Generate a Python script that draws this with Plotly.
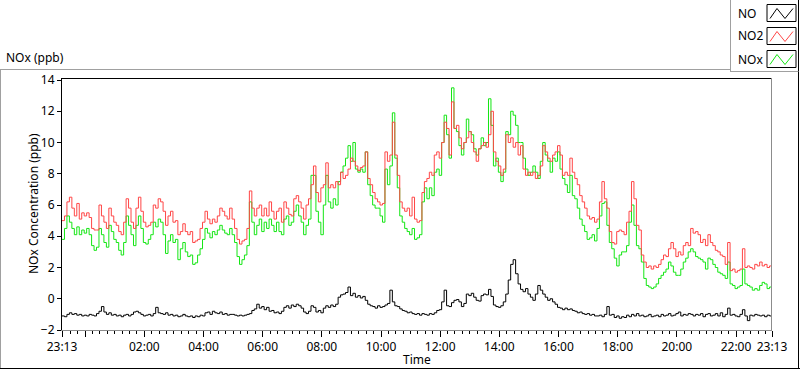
import pandas as pd
import plotly.graph_objects as go

# ---------------- data (5-minute samples from 23:13 to 23:13 next day) ----------------
START = "2000-01-01 23:13"
END = "2000-01-02 23:13"
STEP = "5min"

NO2 = [
    5.0, 5.3, 6.2, 6.5, 5.8, 5.3, 6.1, 5.1, 5.5, 5.3, 5.5, 5.2,
    4.5, 4.4, 4.4, 6.0, 5.3, 4.9, 4.5, 5.8, 5.3, 4.9, 4.7, 4.3,
    4.1, 4.9, 6.4, 5.8, 4.9, 4.5, 5.8, 6.5, 5.6, 4.9, 4.6, 4.7,
    4.9, 6.0, 5.8, 6.4, 6.2, 5.6, 4.7, 5.3, 5.6, 4.9, 5.0, 4.1,
    4.3, 4.8, 4.3, 4.1, 4.3, 3.6, 3.7, 3.8, 4.5, 4.9, 5.6, 5.1,
    4.8, 5.1, 4.9, 5.3, 5.8, 5.6, 5.3, 5.1, 5.8, 5.1, 4.5, 3.8,
    3.5,
    3.7, 3.8, 4.5, 6.9, 5.8, 5.3, 5.8, 6.0, 5.3, 5.8, 5.3, 6.2,
    5.6, 5.1, 5.6, 5.8, 4.9, 6.2, 5.8, 5.4, 5.3, 6.4, 6.6, 6.2,
    5.8, 5.1, 6.0, 6.4, 7.3, 8.5, 6.8, 6.2, 7.1, 7.3, 8.7, 7.1,
    7.3, 7.1, 7.5, 7.3, 8.1, 7.7, 7.9, 8.3, 9.0, 8.8, 8.5, 8.2,
    8.4, 8.5, 9.4, 7.7, 7.3, 6.8, 6.4, 6.2, 6.0, 6.1, 9.4, 8.8,
    9.2, 11.3, 9.2, 7.9, 6.2, 5.8, 5.6, 5.8, 5.3, 6.5, 5.1, 4.9,
    5.0, 6.8, 7.5, 7.7, 8.1, 7.9, 9.2, 9.4, 9.0, 10.0, 11.3, 10.9,
    9.2, 12.6, 10.9, 11.1, 10.3, 9.6, 10.0, 10.3, 10.7, 10.0, 9.4, 8.8,
    9.6, 9.8, 10.0, 9.7, 10.5, 12.0, 9.4, 8.8, 8.5, 7.9, 8.3, 10.5,
    10.0, 10.3, 9.7, 10.0, 9.2, 9.8, 8.3, 7.9, 8.1, 7.9, 8.1, 7.7,
    7.9, 8.5, 9.8, 9.4, 9.0, 8.8, 9.2, 9.4, 9.8, 9.2, 7.9, 8.1,
    7.9, 9.0, 8.1, 7.7, 7.3, 6.6, 6.2, 5.8, 5.3, 5.1, 5.2, 4.9,
    5.1, 6.2, 7.5, 6.4, 5.8, 4.3, 3.6, 3.5, 4.3, 4.4, 4.3, 4.1,
    4.9, 5.6, 7.5, 6.4, 4.7, 4.4, 2.8, 2.35, 2.0, 2.1, 1.9, 2.1,
    2.0, 2.2, 2.5, 2.8, 2.7, 3.2, 3.6, 3.2, 2.7, 3.0, 2.8, 3.4,
    3.6, 3.4, 4.5, 4.2, 4.3, 4.1, 3.6, 3.8, 3.4, 4.1, 3.6, 3.4,
    3.1, 3.0, 2.8, 2.7, 2.2, 3.6, 1.8, 1.9, 1.7, 1.8, 1.9, 3.2,
    2.0, 2.1, 2.0, 1.9, 2.2, 2.1, 2.35, 2.1, 2.2, 2.0, 2.1, 1.8,
]

NOX = [
    3.8, 4.5, 5.3, 4.9, 4.5, 4.1, 4.6, 4.1, 4.4, 4.2, 4.5, 4.1,
    3.4, 3.1, 3.3, 4.5, 4.1, 3.6, 3.3, 4.7, 4.3, 3.8, 3.6, 3.1,
    2.8, 3.6, 5.3, 4.7, 4.1, 3.4, 4.7, 5.3, 4.5, 3.6, 3.5, 3.8,
    4.1, 4.9, 4.6, 5.1, 4.9, 4.1, 2.9, 3.7, 4.1, 3.6, 3.8, 2.5,
    3.2, 3.6, 3.0, 2.7, 2.8, 2.2, 2.3, 2.8, 3.2, 3.8, 4.5, 4.2,
    3.9, 4.3, 4.1, 4.4, 4.7, 4.4, 4.2, 4.1, 4.5, 4.1, 3.6, 2.7,
    2.2,
    2.5, 2.8, 3.4, 6.2, 4.9, 4.1, 4.7, 5.1, 4.3, 4.9, 4.5, 5.1,
    4.7, 4.3, 4.9, 4.3, 4.1, 5.1, 5.3, 4.7, 4.9, 5.6, 6.0, 5.3,
    4.9, 4.1, 4.7, 5.1, 7.9, 7.9, 5.6, 4.9, 4.1, 6.0, 7.9, 6.2,
    5.8, 6.4, 6.0, 7.5, 8.1, 8.5, 9.0, 9.8, 8.8, 10.0, 8.3, 8.1,
    8.3, 8.1, 9.4, 7.3, 6.6, 6.0, 5.8, 5.8, 5.3, 4.9, 8.3, 7.3,
    8.5, 11.9, 9.0, 7.1, 5.3, 4.9, 4.5, 4.3, 4.1, 4.5, 3.8, 3.9,
    4.1, 6.2, 7.1, 6.4, 7.1, 6.6, 8.1, 8.3, 7.9, 10.0, 11.75, 10.5,
    9.0, 13.5, 10.9, 10.7, 9.8, 9.2, 10.0, 11.5, 10.7, 10.5, 9.6, 9.2,
    9.6, 10.3, 9.8, 10.0, 12.8, 11.1, 8.5, 9.0, 8.1, 7.5, 8.1, 10.7,
    10.5, 12.0, 11.75, 11.1, 10.0, 10.0, 9.0, 8.3, 7.9, 8.1, 8.5, 8.1,
    7.7, 8.8, 10.0, 9.2, 8.8, 8.1, 9.0, 8.8, 9.4, 8.3, 7.7, 7.3,
    6.8, 7.9, 6.6, 6.4, 5.8, 5.1, 4.7, 4.3, 3.8, 3.9, 4.1, 3.7,
    4.5, 5.3, 6.1, 6.2, 4.7, 3.6, 3.2, 2.6, 2.1, 2.8, 3.0, 3.0,
    3.4, 4.9, 6.0, 4.7, 3.4, 3.2, 2.35, 1.3, 0.85, 0.75, 0.65, 0.75,
    0.95, 1.3, 1.5, 1.7, 1.9, 2.35, 2.1, 1.7, 1.5, 1.5, 1.9, 2.35,
    2.6, 3.0, 3.2, 3.0, 2.7, 2.6, 2.5, 2.35, 1.9, 2.6, 2.5, 2.2,
    2.0, 1.7, 1.6, 1.5, 1.3, 2.35, 0.95, 0.85, 0.65, 0.75, 0.85, 1.9,
    0.95, 0.85, 0.75, 0.55, 0.65, 0.55, 0.85, 1.05, 0.95, 0.65, 0.75, 0.55,
]

NO = [
    -1.1, -1.15, -1.0, -0.9, -1.0, -0.95, -1.05, -1.0, -1.1, -1.05, -1.1, -1.0,
    -1.05, -1.1, -0.95, -0.8, -0.5, -0.85, -1.0, -0.9, -1.05, -1.0, -1.1, -1.05,
    -1.15, -1.05, -1.0, -1.1, -1.0, -0.85, -0.8, -0.9, -1.0, -1.1, -1.05, -1.0,
    -1.1, -0.95, -0.55, -0.9, -0.95, -1.0, -0.9, -1.05, -1.0, -1.1, -1.05, -1.15,
    -1.1, -1.0, -1.1, -1.15, -1.1, -1.2, -1.1, -1.15, -1.05, -1.1, -0.9, -0.85,
    -1.0, -0.8, -0.9, -0.95, -0.85, -1.0, -0.95, -1.05, -1.0, -1.0, -1.05, -1.1,
    -1.05,
    -1.1, -1.05, -1.0, -0.95, -0.75, -0.65, -0.35, -0.6, -0.5, -0.7, -0.55, -0.8,
    -0.75, -0.9, -0.85, -0.95, -0.8, -0.55, -0.45, -0.6, -0.4, -0.5, -0.35, -0.45,
    -0.6, -0.85, -0.95, -0.8, -0.45, -0.55, -0.85, -0.75, -0.9, -0.6, -0.45, -0.55,
    -0.4, -0.5, -0.35, 0.1, 0.25, 0.3, 0.4, 0.75, 0.2, 0.35, 0.1, 0.2,
    0.05, 0.15, -0.1, -0.35, -0.45, -0.5, -0.6, -0.45, -0.55, -0.5, -0.4, -0.3,
    0.55, -0.2, -0.45, -0.5, -0.65, -0.75, -0.8, -0.9, -0.85, -0.95, -1.0, -0.95,
    -1.05, -0.95, -1.0, -1.05, -0.95, -1.0, -0.9, -0.75, -0.7, -0.2, 0.55, -0.45,
    -0.5, -0.25, -0.1, -0.05, -0.2, -0.5, -0.3, 0.3, 0.2, 0.35, 0.1, -0.1,
    -0.15, 0.2, 0.3, 0.25, 0.6, 0.15, -0.4, -0.5, -0.55, -0.45, -0.2, 0.3,
    1.2, 2.2, 2.5, 1.6, 0.95, 0.6, 0.45, 0.65, 0.3, 0.1, -0.1, 0.3,
    0.85, 0.55, 0.3, 0.1, -0.1, 0.0, -0.2, -0.35, -0.55, -0.6, -0.7, -0.6,
    -0.7, -0.65, -0.75, -0.8, -0.9, -0.85, -0.95, -1.0, -0.95, -1.05, -1.0, -1.1,
    -1.1, -1.05, -1.15, -1.0, -0.5, -1.05, -1.0, -1.2, -1.1, -1.25, -1.15, -1.2,
    -1.05, -1.15, -1.0, -1.1, -0.95, -1.1, -1.05, -1.15, -1.1, -1.0, -1.15, -1.1,
    -1.05, -1.15, -1.0, -1.1, -1.05, -0.95, -1.1, -1.05, -0.95, -0.85, -1.1, -1.0,
    -1.05, -0.95, -1.0, -1.1, -1.0, -1.05, -0.95, -1.15, -1.0, -0.95, -1.1, -1.05,
    -0.95, -1.1, -0.9, -1.15, -1.0, -0.6, -1.05, -1.0, -1.1, -1.15, -1.0, -0.7,
    -1.1, -1.4, -1.05, -1.1, -1.0, -1.05, -1.1, -1.05, -1.15, -1.05, -1.1, -1.15,
]

TICK_TIMES = [
    "2000-01-01 23:13", "2000-01-02 00:00", "2000-01-02 02:00", "2000-01-02 04:00",
    "2000-01-02 06:00", "2000-01-02 08:00", "2000-01-02 10:00", "2000-01-02 12:00",
    "2000-01-02 14:00", "2000-01-02 16:00", "2000-01-02 18:00", "2000-01-02 20:00",
    "2000-01-02 22:00", "2000-01-02 23:13",
]
TICK_LABELS = ["23:13", "", "02:00", "04:00", "06:00", "08:00", "10:00", "12:00",
               "14:00", "16:00", "18:00", "20:00", "22:00", "23:13"]
Y_TICKS = [-2, 0, 2, 4, 6, 8, 10, 12, 14]

SERIES = ["NO", "NO2", "NOx"]
COLORS = {"NO": "#000000", "NO2": "#ff4646", "NOx": "#14e614"}

times = pd.date_range(START, END, freq=STEP)

# ---------------- geometry helpers (pixel -> paper) ----------------
W, H = 800, 369
L, R, T, B = 62, 772, 78, 330


def px(x):
    return (x - L) / (R - L)


def py(y):
    return (B - y) / (B - T)


FONT = "Noto Sans"

fig = go.Figure()
data = {"NO": NO, "NO2": NO2, "NOx": NOX}
for name in ["NOx", "NO2", "NO"]:
    fig.add_trace(go.Scatter(
        x=times, y=data[name], mode="lines", name=name,
        line=dict(color=COLORS[name], width=1, shape="hv"), showlegend=False,
    ))

shapes = []
GRAY = "#8c8c8c"
LGRAY = "#a0a0a0"


def line(x0, y0, x1, y1, color):
    shapes.append(dict(type="line", xref="paper", yref="paper",
                       x0=px(x0), y0=py(y0), x1=px(x1), y1=py(y1),
                       line=dict(color=color, width=1), layer="above"))


# plot frame
line(L, T + 0.5, R, T + 0.5, "#000000")
line(R - 0.5, T, R - 0.5, B, GRAY)
# outer frame
line(0, 69.5, 730.5, 69.5, LGRAY)
line(0.5, 69.5, 0.5, 369, LGRAY)
line(0, 368.5, 800, 368.5, "#000000")
line(798.5, 0, 798.5, 369, "#000000")
# legend box
line(730.5, 0, 730.5, 72, LGRAY)
line(730.5, 71.5, 798.5, 71.5, LGRAY)

annotations = []
centers = [13, 36, 59]
for name, yc in zip(SERIES, centers):
    annotations.append(dict(text=name, xref="paper", yref="paper", x=px(736), y=py(yc),
                            xanchor="left", yanchor="middle", showarrow=False,
                            font=dict(family=FONT, size=12, color="#000000")))
    x0, x1, y0, y1 = 767, 796, yc - 8.5, yc + 8.5
    shapes.append(dict(type="rect", xref="paper", yref="paper",
                       x0=px(x0), x1=px(x1), y0=py(y1), y1=py(y0),
                       line=dict(color="#000000", width=1), fillcolor="white", layer="above"))
    pts = [(x0 + 3, y1 - 3), (x0 + 10, y0 + 4), (x0 + 18, y1 - 3), (x0 + 26, y0 + 4)]
    path = "M " + " L ".join(f"{px(a):.5f},{py(b):.5f}" for a, b in pts)
    shapes.append(dict(type="path", xref="paper", yref="paper", path=path,
                       line=dict(color=COLORS[name], width=1), layer="above"))

annotations.append(dict(text="NOx (ppb)", xref="paper", yref="paper", x=px(4), y=py(57),
                        xanchor="left", yanchor="middle", showarrow=False,
                        font=dict(family=FONT, size=12, color="#000000")))
annotations.append(dict(text="Time", xref="paper", yref="paper", x=0.5, y=py(359),
                        xanchor="center", yanchor="middle", showarrow=False,
                        font=dict(family=FONT, size=12, color="#000000")))
annotations.append(dict(text="NOx Concentration (ppb)", xref="paper", yref="paper",
                        x=px(33), y=0.5, textangle=-90,
                        xanchor="center", yanchor="middle", showarrow=False,
                        font=dict(family=FONT, size=12, color="#000000")))

fig.update_layout(
    width=W, height=H,
    margin=dict(l=L, r=W - R, t=T, b=H - B, pad=0),
    paper_bgcolor="white", plot_bgcolor="white",
    shapes=shapes, annotations=annotations,
    font=dict(family=FONT, size=12, color="#000000"),
    hovermode=False,
)
fig.update_xaxes(
    type="date", range=[START, END],
    tickmode="array", tickvals=TICK_TIMES, ticktext=TICK_LABELS,
    ticks="outside", ticklen=6, tickcolor="#000000", tickwidth=1,
    minor=dict(tickmode="linear", tick0="2000-01-02 00:00", dtick=15 * 60 * 1000,
               ticks="outside", ticklen=3, tickcolor="#000000", tickwidth=1),
    showline=True, linecolor=GRAY, linewidth=1, mirror=False,
    showgrid=False, zeroline=False,
    tickfont=dict(family=FONT, size=12, color="#000000"),
)
fig.update_yaxes(
    range=[-2, 14.13], tickmode="array", tickvals=Y_TICKS,
    ticks="outside", ticklen=4, tickcolor="#000000", tickwidth=1,
    showline=True, linecolor="#000000", linewidth=1,
    showgrid=False, zeroline=False,
    tickfont=dict(family=FONT, size=12, color="#000000"),
)

fig.write_html(
    "out.html",
    config={"displayModeBar": False, "staticPlot": True},
    post_script="document.body.style.margin='0';document.body.style.overflow='hidden';",
)
